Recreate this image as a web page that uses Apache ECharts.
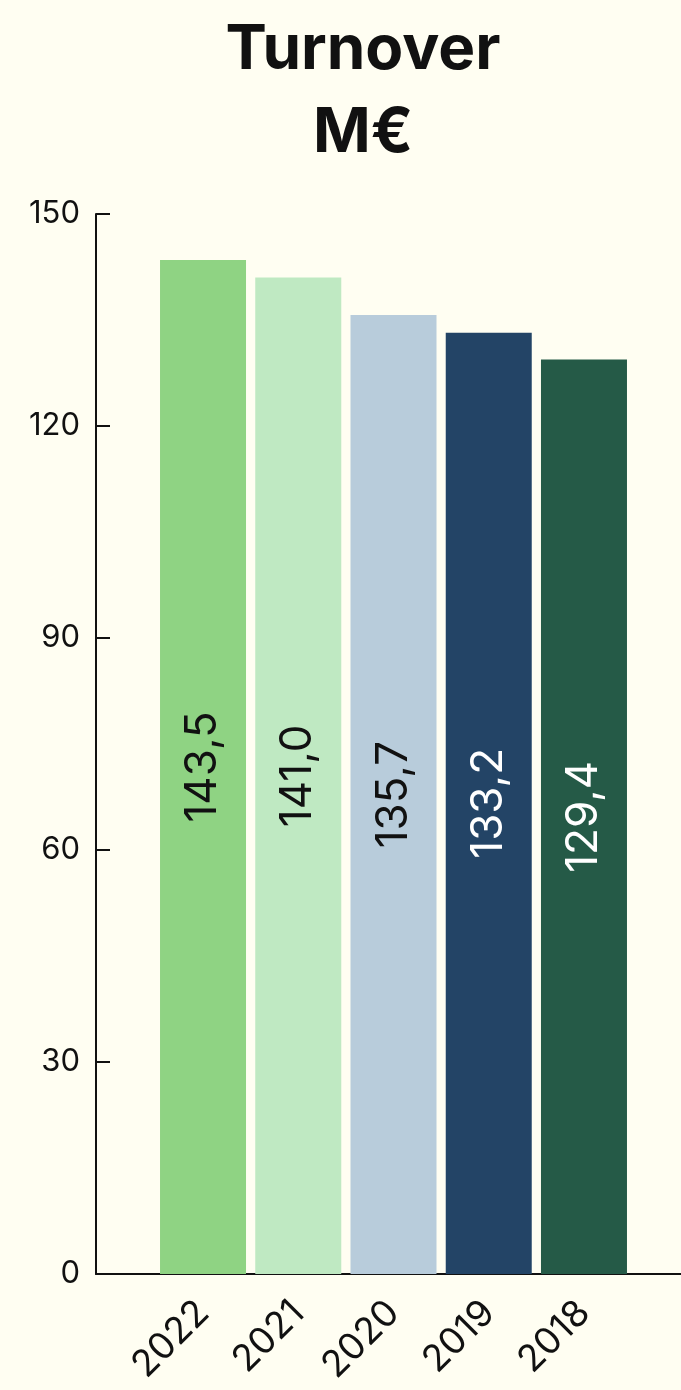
<!DOCTYPE html>
<html>
<head>
<meta charset="utf-8">
<style>
html,body{margin:0;padding:0;background:#fffef2;}
#chart{width:681px;height:1390px;}
</style>
<script src="https://cdn.jsdelivr.net/npm/echarts@6/dist/echarts.min.js"></script>
</head>
<body>
<div id="chart"></div>
<script>
const categories = ['2022', '2021', '2020', '2019', '2018'];
const values = [143.5, 141.0, 135.7, 133.2, 129.4];
const barColors = ['#8fd383', '#bfe9c2', '#b8ccdb', '#234466', '#255a47'];
const labelColors = ['#111111', '#111111', '#111111', '#ffffff', '#ffffff'];
const yTicks = [0, 30, 60, 90, 120, 150];
const titleText = 'Turnover\nM€';

const chart = echarts.init(document.getElementById('chart'), null, {renderer: 'canvas'});
const fontFam = 'Inter, "Noto Sans", sans-serif';
chart.setOption({
  backgroundColor: '#fffef2',
  animation: false,
  title: {
    text: titleText,
    left: 358, top: 4, textAlign: 'center',
    textStyle: {fontFamily: fontFam, fontWeight: 'bold', fontSize: 62, lineHeight: 83, color: '#111111'}
  },
  grid: [
    {left: 155.4, right: 49.4, top: 214, bottom: 116},
    {left: 96, right: 0, top: 214, bottom: 116}
  ],
  xAxis: [
    {
      type: 'category', gridIndex: 0, data: categories,
      axisLine: {show: false}, axisTick: {show: false},
      axisLabel: {rotate: 45, fontSize: 37, fontFamily: fontFam, color: '#111111', margin: 33, interval: 0}
    },
    {
      type: 'value', gridIndex: 1, min: 0, max: 1,
      axisLine: {show: true, lineStyle: {color: '#111111', width: 2}},
      axisTick: {show: false}, axisLabel: {show: false}, splitLine: {show: false}
    }
  ],
  yAxis: [
    {
      type: 'value', gridIndex: 0, min: yTicks[0], max: yTicks[yTicks.length - 1], interval: 30,
      offset: 59.4,
      axisLine: {show: true, lineStyle: {color: '#111111', width: 2}},
      axisTick: {show: true, inside: true, length: 14, lineStyle: {color: '#111111', width: 2}},
      axisLabel: {fontSize: 31, fontFamily: fontFam, color: '#111111', margin: 16},
      splitLine: {show: false}
    },
    {
      type: 'value', gridIndex: 1, min: 0, max: 1, show: false
    }
  ],
  series: [{
    type: 'bar', xAxisIndex: 0, yAxisIndex: 0,
    barWidth: 86,
    data: values.map((v, i) => ({
      value: v,
      itemStyle: {color: barColors[i]},
      label: {color: labelColors[i]}
    })),
    label: {
      show: true, position: 'inside', rotate: 90,
      fontSize: 44, fontFamily: fontFam,
      formatter: p => p.value.toFixed(1).replace('.', ',')
    }
  }]
});
</script>
</body>
</html>
